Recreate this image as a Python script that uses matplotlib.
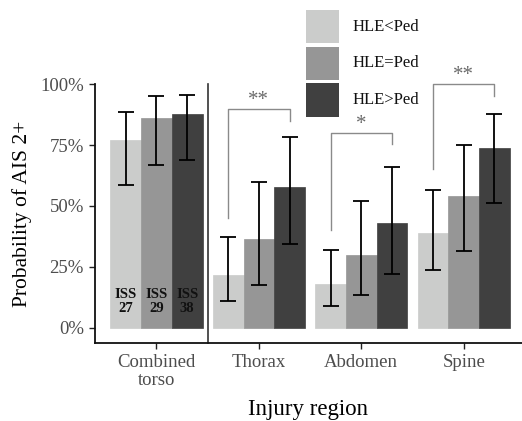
import matplotlib
matplotlib.use("Agg")
import matplotlib.pyplot as plt
from matplotlib.patches import Rectangle
import numpy as np

plt.rcParams['font.family'] = ['Liberation Serif', 'DejaVu Serif']

regions = ["Combined\ntorso", "Thorax", "Abdomen", "Spine"]
groups = ["HLE<Ped", "HLE=Ped", "HLE>Ped"]
colors = ["#cbcccb", "#969696", "#404040"]

prob = {
    "HLE<Ped": [0.77, 0.216, 0.18, 0.389],
    "HLE=Ped": [0.86, 0.364, 0.297, 0.541],
    "HLE>Ped": [0.876, 0.578, 0.43, 0.738],
}
lower = {
    "HLE<Ped": [0.587, 0.111, 0.09, 0.236],
    "HLE=Ped": [0.667, 0.175, 0.136, 0.316],
    "HLE>Ped": [0.69, 0.343, 0.222, 0.514],
}
upper = {
    "HLE<Ped": [0.887, 0.374, 0.318, 0.567],
    "HLE=Ped": [0.95, 0.60, 0.52, 0.75],
    "HLE>Ped": [0.958, 0.784, 0.66, 0.88],
}
iss_values = ["27", "29", "38"]

# significance brackets: (region index, top, left leg end, right leg end, label)
sig_region = [1, 2, 3]
sig_top = [0.90, 0.80, 1.003]
sig_left_end = [0.45, 0.40, 0.65]
sig_right_end = [0.85, 0.755, 0.95]
sig_label = ["**", "*", "**"]

W, H = 522, 421
fig = plt.figure(figsize=(W / 100, H / 100), dpi=100)
ax = fig.add_axes([95 / W, (H - 343) / H, 1 - 95 / W, (343 - 84.3) / H])

x = np.arange(1, len(regions) + 1)
bw = 0.3
offsets = [-bw, 0, bw]
for g, c, off in zip(groups, colors, offsets):
    p = np.array(prob[g])
    lo = p - np.array(lower[g])
    hi = np.array(upper[g]) - p
    ax.bar(x + off, p, width=bw, color=c, edgecolor=c, linewidth=0.5, zorder=2)
    ax.errorbar(x + off, p, yerr=[lo, hi], fmt='none', ecolor='#000000',
                elinewidth=1.3, capsize=6, capthick=1.3, zorder=3)

# ISS labels in combined torso bars
for off, v in zip(offsets, iss_values):
    ax.text(1 + off, 0.136, "ISS", ha='center', va='center', fontsize=10.5,
            fontweight='bold', color='#111111', zorder=4)
    ax.text(1 + off, 0.079, v, ha='center', va='center', fontsize=10.5,
            fontweight='bold', color='#111111', zorder=4)

# separator
ax.plot([1.5, 1.5], [-0.063, 1.0], color='#333333', lw=1.2, zorder=1, clip_on=False)

# brackets
for r, top, le, re_, lab in zip(sig_region, sig_top, sig_left_end, sig_right_end, sig_label):
    xl = x[r] + offsets[0]
    xr = x[r] + offsets[2]
    ax.plot([xl, xl, xr, xr], [le, top, top, re_], color='#8a8a8a', lw=1.0,
            clip_on=False, zorder=1)
    ax.text((xl + xr) / 2, top - 0.005, lab, ha='center', va='bottom',
            fontsize=15, color='#6a6a6a', clip_on=False)

ax.set_xlim(0.4, 1 + (W - 156.5) / 102.4)
ax.set_ylim(-0.063, 1.0)
ax.set_xticks(x)
ax.set_xticklabels(regions, linespacing=1.1)
ax.set_yticks([0, 0.25, 0.5, 0.75, 1.0])
ax.set_yticklabels(["0%", "25%", "50%", "75%", "100%"])
ax.tick_params(axis='both', labelsize=13.5, labelcolor='#4d4d4d', color='#222222',
               length=4, width=1.0)
ax.tick_params(axis='y', pad=4)
ax.tick_params(axis='x', pad=4)
for s in ['top', 'right']:
    ax.spines[s].set_visible(False)
for s in ['left', 'bottom']:
    ax.spines[s].set_linewidth(1.3)
    ax.spines[s].set_color('#111111')

ax.set_ylabel("Probability of AIS 2+", fontsize=15.5, labelpad=6)
ax.set_xlabel("Injury region", fontsize=16.5, labelpad=7)

# legend (manual)
sq = 33.3
for i, (g, c) in enumerate(zip(groups, colors)):
    top_px = 10 + i * 36.7
    fig.add_artist(Rectangle((306 / W, (H - top_px - sq) / H), sq / W, sq / H,
                             transform=fig.transFigure, facecolor=c, edgecolor='none'))
    fig.text(352.7 / W, (H - top_px - sq / 2) / H, g, ha='left', va='center',
             fontsize=12, color='#111111')

fig.savefig("out.png", dpi=100)
